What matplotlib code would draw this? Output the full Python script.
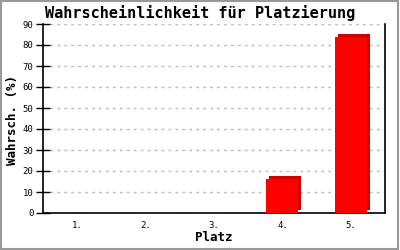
import matplotlib
matplotlib.use("Agg")
import matplotlib.pyplot as plt
import matplotlib.transforms as mtransforms
from matplotlib.patches import Rectangle

categories = ["1.", "2.", "3.", "4.", "5."]
values = [0, 0, 0, 16, 84]
yticks = [0, 10, 20, 30, 40, 50, 60, 70, 80, 90]

fig = plt.figure(figsize=(4, 2.5), dpi=100)
ax = fig.add_axes([0.1075, 0.148, 0.855, 0.756])

x = list(range(len(categories)))
shadow_tr = ax.transData + mtransforms.ScaledTranslation(3/100, 3/100, fig.dpi_scale_trans)
ax.bar(x, values, width=0.47, color="#cc0000", transform=shadow_tr, zorder=2)
ax.bar(x, values, width=0.47, color="#ff0000", zorder=3)

ax.set_xlim(-0.5, 4.5)
ax.set_ylim(0, 90)
ax.set_yticks(yticks)
ax.set_xticks(x)
ax.set_xticklabels(categories)
mono = "DejaVu Sans Mono"
for lab in ax.get_xticklabels() + ax.get_yticklabels():
    lab.set_fontfamily(mono)
    lab.set_fontsize(6.5)
ax.tick_params(axis="x", length=0, pad=6)
ax.tick_params(axis="y", direction="inout", length=10, width=1, pad=2)
ax.grid(axis="y", color="#bbbbbb", linestyle=(0, (2, 3)), linewidth=1)
ax.set_axisbelow(True)
ax.spines["top"].set_visible(False)
for s in ["left", "right", "bottom"]:
    ax.spines[s].set_linewidth(1.2)
    ax.spines[s].set_color("black")

fig.text(0.5, 0.948, "Wahrscheinlichkeit für Platzierung", fontfamily=mono, fontsize=11,
         fontweight="bold", ha="center", va="center")
ax.set_xlabel("Platz", fontfamily=mono, fontsize=9, fontweight="bold")
ax.xaxis.set_label_coords(0.5, -0.132)
ax.set_ylabel("Wahrsch. (%)", fontfamily=mono, fontsize=9, fontweight="bold")
ax.yaxis.set_label_coords(-0.088, 0.49)
ax.xaxis.label.set_va("center")
ax.yaxis.label.set_va("center")

fig.patches.append(Rectangle((0.0025, 0.004), 0.993, 0.992, transform=fig.transFigure,
                             fill=False, edgecolor="#999999", linewidth=1.5))
fig.savefig("out.png", dpi=100)
